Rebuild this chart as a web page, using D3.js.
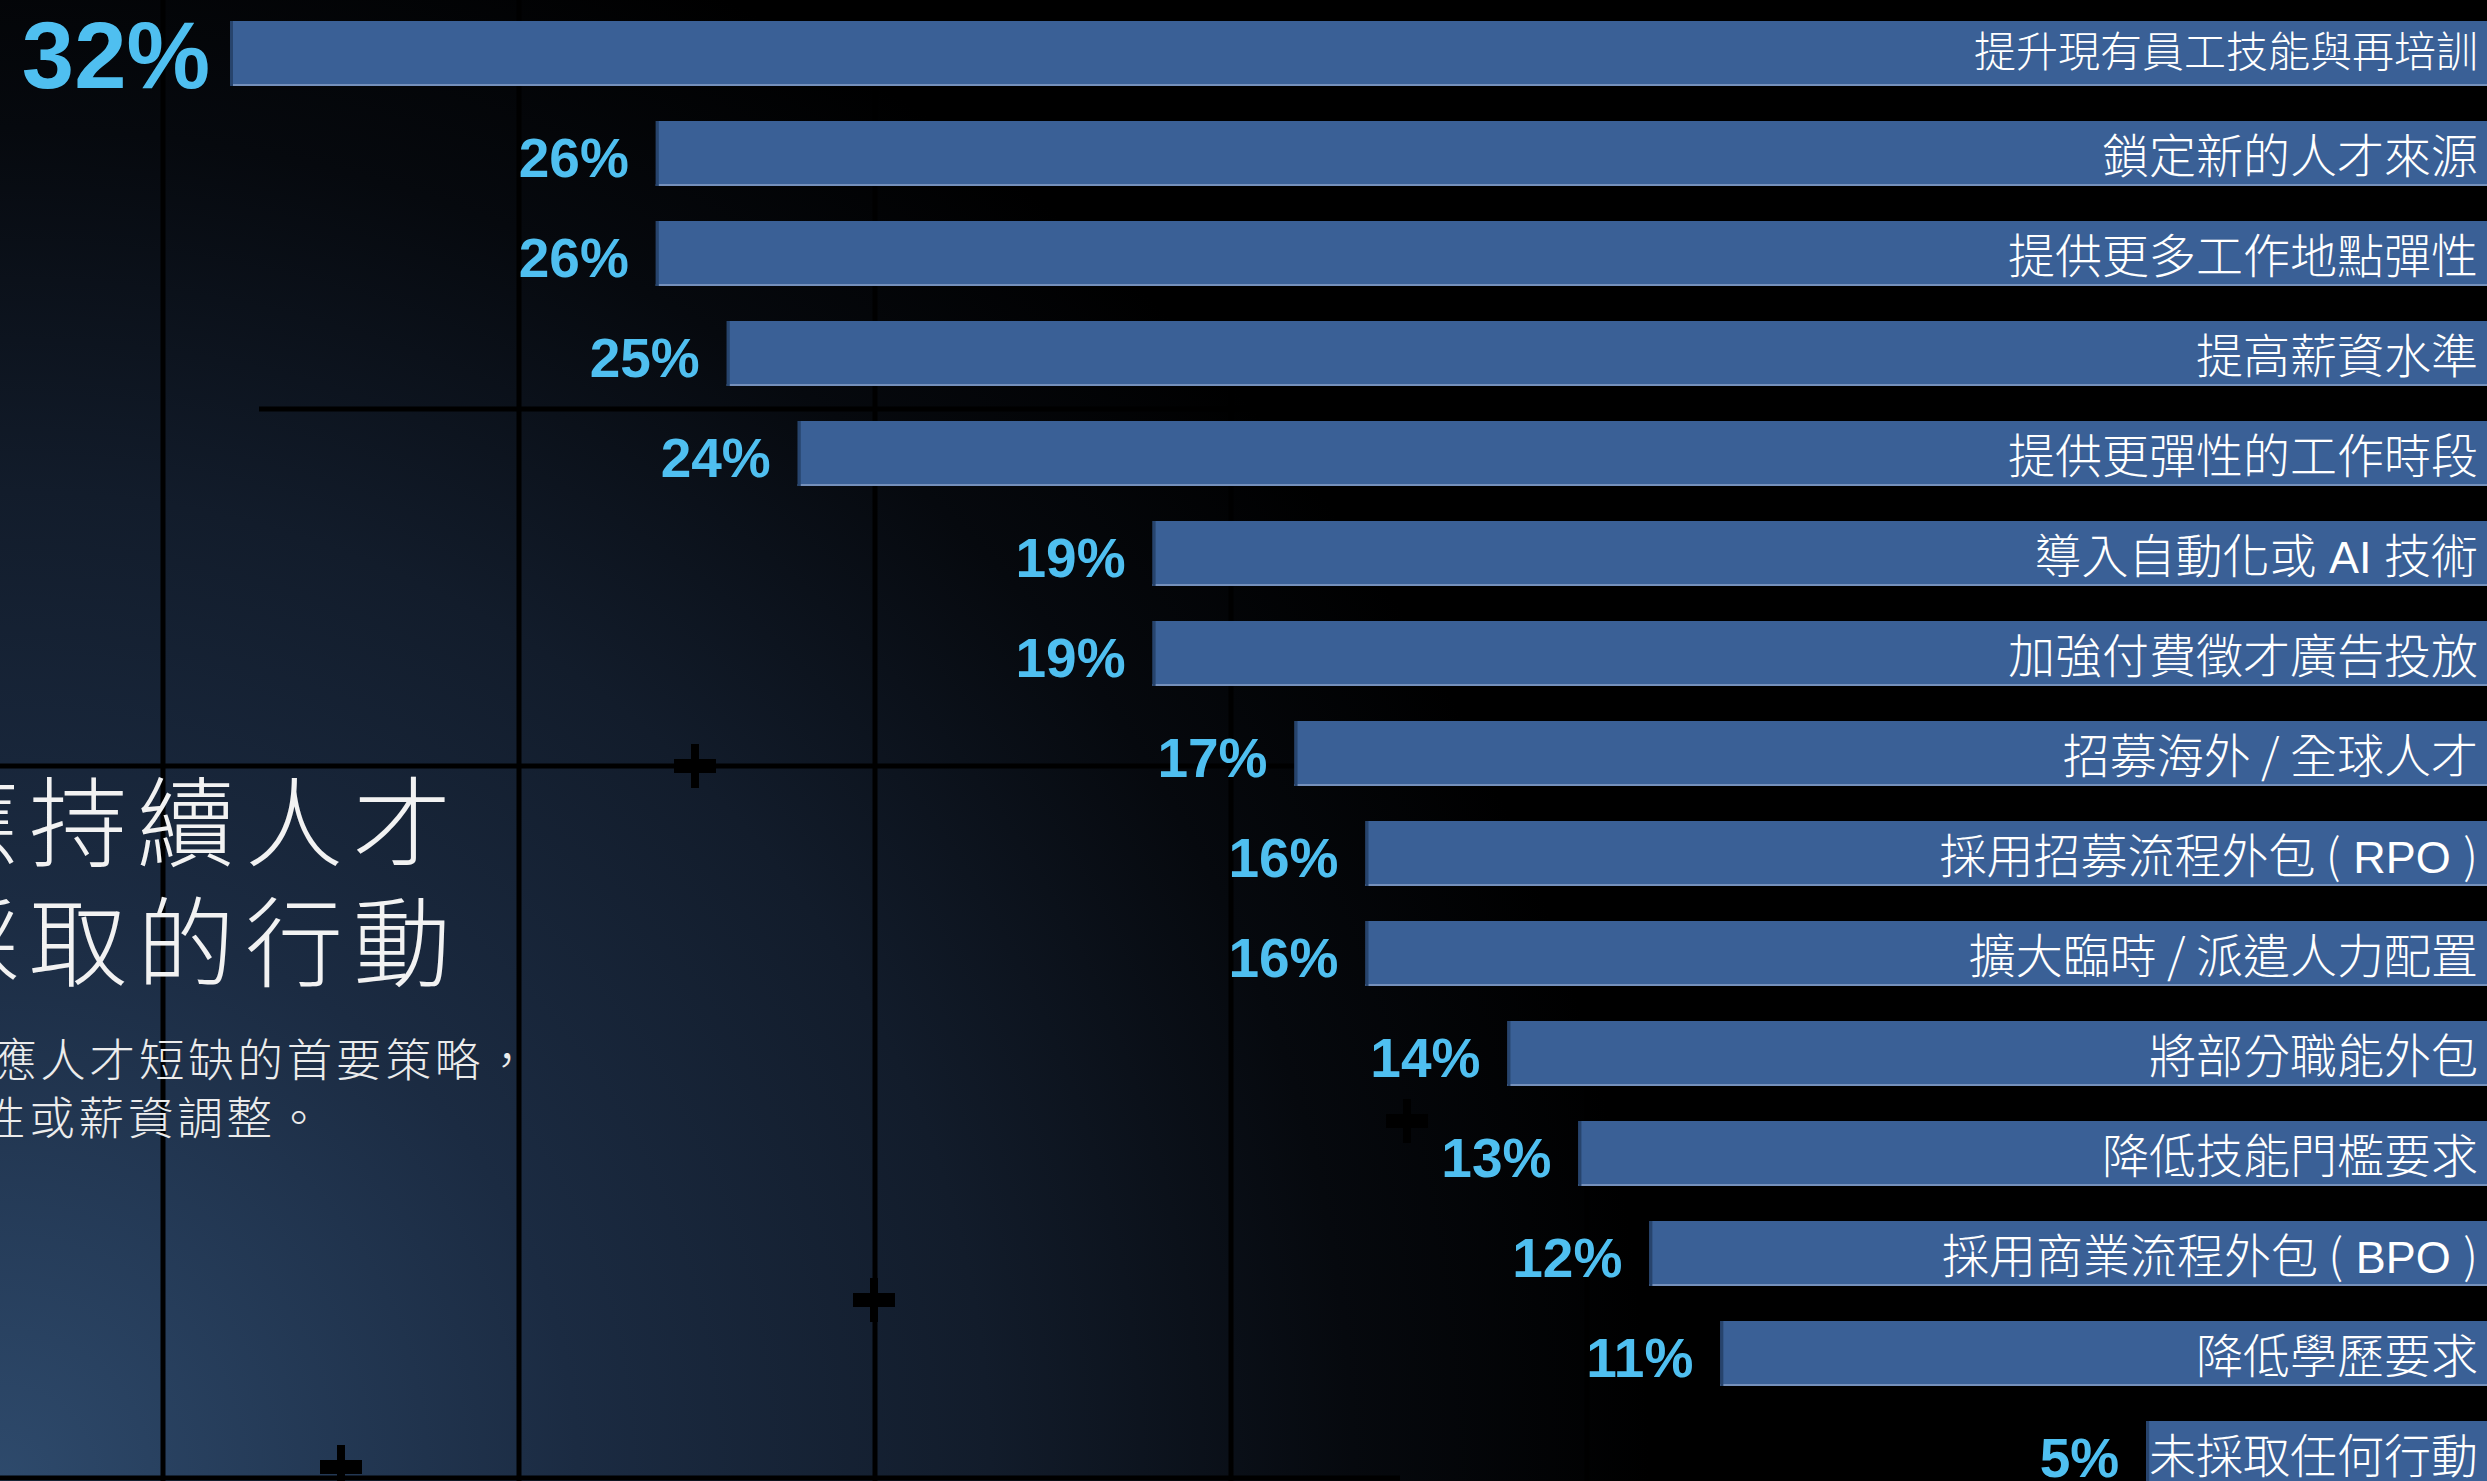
<!DOCTYPE html>
<html>
<head>
<meta charset="utf-8">
<script src="https://cdn.jsdelivr.net/npm/d3@7"></script>
<style>
  html, body { margin: 0; padding: 0; background: #000; overflow: hidden; }
  svg { display: block; }
</style>
</head>
<body>
<svg id="chart"></svg>
<script>
// chart data
const categories = [
  '提升現有員工技能與再培訓',
  '鎖定新的人才來源',
  '提供更多工作地點彈性',
  '提高薪資水準',
  '提供更彈性的工作時段',
  '導入自動化或 AI 技術',
  '加強付費徵才廣告投放',
  '招募海外 / 全球人才',
  '採用招募流程外包 ( RPO )',
  '擴大臨時 / 派遣人力配置',
  '將部分職能外包',
  '降低技能門檻要求',
  '採用商業流程外包 ( BPO )',
  '降低學歷要求',
  '未採取任何行動'
];
const values = [32, 26, 26, 25, 24, 19, 19, 17, 16, 16, 14, 13, 12, 11, 5];
const titleLines = ['應持續人才', '採取的行動'];
const subtitleLines = ['應人才短缺的首要策略，', '性或薪資調整。'];

const W = 2487, H = 1481;
const cjk = '"Noto Sans CJK TC", "Noto Sans CJK SC", sans-serif';
const latin = '"Liberation Sans", Arial, sans-serif';
const num = '"Liberation Sans", Arial, sans-serif';

const svg = d3.select('#chart')
  .attr('width', W)
  .attr('height', H)
  .attr('viewBox', `0 0 ${W} ${H}`);

// background glow from the bottom left corner
const defs = svg.append('defs');
const bg = defs.append('radialGradient')
  .attr('id', 'bg')
  .attr('gradientUnits', 'userSpaceOnUse')
  .attr('cx', 0).attr('cy', H).attr('r', 1650);
[[0, '#2e4a6c'], [0.35, '#1b2b42'], [0.6, '#121c2b'], [0.82, '#06090e'], [1, '#000']]
  .forEach(([o, c]) => bg.append('stop').attr('offset', o).attr('stop-color', c));

svg.append('rect').attr('width', W).attr('height', H).attr('fill', 'url(#bg)');

// decorative grid
const grid = svg.append('g').attr('stroke', '#000').attr('stroke-width', 5);
d3.range(163, 1600, 356).forEach(x => {
  grid.append('line').attr('x1', x).attr('x2', x).attr('y1', 0).attr('y2', H);
});
[[259, 409], [0, 766], [0, 1478]].forEach(([x0, y]) => {
  grid.append('line').attr('x1', x0).attr('x2', 1400).attr('y1', y).attr('y2', y);
});
[[695, 766], [1407, 1121], [874, 1300], [341, 1467]].forEach(([cx, cy]) => {
  grid.append('rect').attr('x', cx - 21).attr('y', cy - 7).attr('width', 42).attr('height', 14)
    .attr('fill', '#000').attr('stroke', 'none');
  grid.append('rect').attr('x', cx - 4).attr('y', cy - 22).attr('width', 8).attr('height', 44)
    .attr('fill', '#000').attr('stroke', 'none');
});

// scales
const right = 2501;
const x = d3.scaleLinear().domain([0, 32]).range([0, 2271]);
const y = d3.scaleBand()
  .domain(categories)
  .range([21, 1486])
  .paddingInner(0.35)
  .paddingOuter(0);

const rows = categories.map((c, i) => ({ cat: c, val: values[i], i }));

const bar = svg.append('g').selectAll('g')
  .data(rows)
  .join('g')
  .attr('transform', d => `translate(${right - x(d.val)},${y(d.cat)})`);

bar.append('rect')
  .attr('width', d => x(d.val))
  .attr('height', y.bandwidth())
  .attr('fill', '#3a6096');

bar.append('rect')
  .attr('y', y.bandwidth() - 2)
  .attr('width', d => x(d.val))
  .attr('height', 2)
  .attr('fill', '#7590bb');

bar.append('rect')
  .attr('width', 3)
  .attr('height', y.bandwidth())
  .attr('fill', '#27446d');

// category labels inside the bars, latin letters in a separate run
const isLatin = s => /[A-Za-z]/.test(s);
const label = bar.append('text')
  .attr('x', d => x(d.val) - (right - 2478))
  .attr('y', d => d.i === 0 ? 46 : 52)
  .attr('text-anchor', 'end')
  .attr('fill', '#fff')
  .attr('font-family', cjk)
  .attr('font-weight', 300)
  .attr('font-size', d => d.i === 0 ? 42 : 47);

label.selectAll('tspan')
  .data(d => d.cat.split(/( ?[A-Za-z]+ ?)/).filter(s => s.length))
  .join('tspan')
  .attr('font-family', s => isLatin(s) ? latin : null)
  .attr('font-weight', s => isLatin(s) ? 400 : null)
  .attr('font-size', s => isLatin(s) ? 45 : null)
  .text(s => s);

// percentage labels
bar.append('text')
  .attr('x', d => d.i === 0 ? -20 : -27)
  .attr('y', d => d.i === 0 ? 67 : 56)
  .attr('text-anchor', 'end')
  .attr('fill', '#4fbff0')
  .attr('font-family', num)
  .attr('font-weight', 'bold')
  .attr('font-size', d => d.i === 0 ? 94 : 55)
  .text(d => `${d.val}%`);

// title and subtitle, cut by the left edge
svg.append('g').selectAll('text')
  .data(titleLines)
  .join('text')
  .attr('x', -79)
  .attr('y', (d, i) => 859 + i * 120)
  .attr('fill', '#f2f2f2')
  .attr('font-family', cjk)
  .attr('font-weight', 300)
  .attr('font-size', 98)
  .attr('letter-spacing', 10)
  .text(d => d);

svg.append('g').selectAll('text')
  .data(subtitleLines)
  .join('text')
  .attr('x', (d, i) => i === 0 ? -9 : -20)
  .attr('y', (d, i) => 1077 + i * 58)
  .attr('fill', '#ececec')
  .attr('font-family', cjk)
  .attr('font-weight', 300)
  .attr('font-size', 45.5)
  .attr('letter-spacing', 3.8)
  .text(d => d);
</script>
</body>
</html>
